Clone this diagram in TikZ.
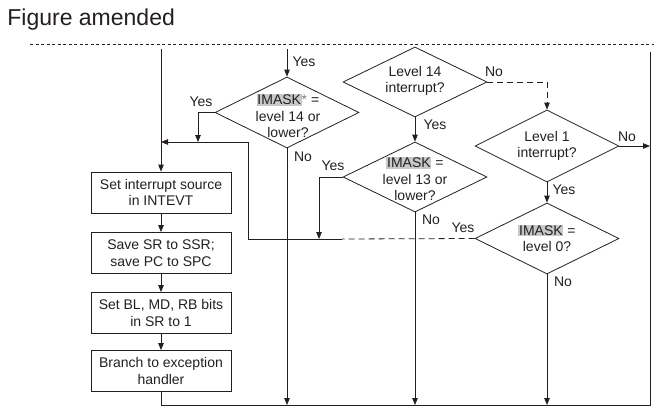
\documentclass[tikz,border=0pt]{standalone}
\usepackage{fontspec}
\setmainfont{Liberation Sans}
\usetikzlibrary{shapes.geometric,arrows.meta}
\definecolor{ink}{HTML}{231F20}
\definecolor{hlgray}{HTML}{C8C8C8}
\newcommand{\hlword}[1]{{\setlength{\fboxsep}{0.7pt}\colorbox{hlgray}{#1}}}
\begin{document}
\begin{tikzpicture}[x=1pt,y=-1pt, line width=0.8pt, color=ink,
 every node/.style={font=\fontsize{14}{16.5}\selectfont, text=ink},
 arr/.style={-{Triangle[length=7pt,width=5.5pt]}},
 stepbox/.style={draw, rectangle, minimum width=140pt, minimum height=41pt, inner sep=0pt, align=center},
 dia/.style={draw, diamond, minimum width=144pt, minimum height=71pt, inner sep=0pt},
 dtext/.style={align=center, inner sep=0pt},
 lbl/.style={inner sep=0pt},
 dsh/.style={dash pattern=on 6pt off 4pt}]
\useasboundingbox (0,0) rectangle (654,407);
% title and top dashed rule
\node[anchor=base west, inner sep=0pt, font=\fontsize{23}{27}\selectfont] (title) at (7,25) {Figure amended};
\coordinate (tl) at (30,44); \coordinate (tr) at (654,44);
\draw[line width=0.6pt, dash pattern=on 3pt off 2.5pt] (tl) -- (tr);
% boxes
\node[stepbox] (b1) at (161,192.5) {Set interrupt source\\in INTEVT};
\node[stepbox] (b2) at (161,253) {Save SR to SSR;\\save PC to SPC};
\node[stepbox] (b3) at (161,313) {Set BL, MD, RB bits\\in SR to 1};
\node[stepbox] (b4) at (161,371) {Branch to exception\\handler};
% diamonds
\node[dia] (d1) at (287,112.5) {};
\node[dtext] (t1) at (288,116) {\hlword{IMASK}{\color{gray}*} =\\level 14 or\\lower?};
\node[dia, minimum height=70pt] (d2) at (415,82) {};
\node[dtext] (t2) at (415,81) {Level 14\\interrupt?};
\node[dia, minimum height=70pt] (d3) at (415,177) {};
\node[dtext] (t3) at (415,179) {\hlword{IMASK} =\\level 13 or\\lower?};
\node[dia, minimum height=72pt] (d4) at (547,146) {};
\node[dtext] (t4) at (547,146) {Level 1\\interrupt?};
\node[dia] (d5) at (547,238.5) {};
\node[dtext] (t5) at (547,238.5) {\hlword{IMASK} =\\level 0?};
% coordinates
\coordinate (in1) at (287,49);
\coordinate (inL) at (161,49);
\coordinate (y1a) at (198,112.5); \coordinate (y1b) at (198,142);
\coordinate (jr) at (342,239); \coordinate (jb) at (248,239);
\coordinate (jt) at (248,142); \coordinate (jl) at (161,142);
\coordinate (y3a) at (319,177); \coordinate (y3b) at (319,239);
\coordinate (n2) at (547,82);
\coordinate (n4) at (650,146);
\coordinate (bl) at (161,405); \coordinate (br) at (650,405); \coordinate (rt) at (650,52);
\coordinate (e1) at (287,405); \coordinate (e3) at (415,405); \coordinate (e5) at (547,405);
% connectors
\draw[arr] (in1) -- (d1.north);
\draw[arr] (inL) -- (b1.north);
\draw[arr] (d1.west) -- (y1a) -- (y1b);
\draw[dsh] (d5.west) -- (jr);
\draw[arr] (jr) -- (jb) -- (jt) -- (jl);
\draw[arr] (d3.west) -- (y3a) -- (y3b);
\draw[arr] (d2.south) -- (d3.north);
\draw[dsh,arr] (d2.east) -- (n2) -- (d4.north);
\draw[arr] (d4.south) -- (d5.north);
\draw[arr] (d4.east) -- (n4);
\draw (b4.south) -- (bl) -- (br) -- (rt);
\draw[arr] (d1.south) -- (e1);
\draw[arr] (d3.south) -- (e3);
\draw[arr] (d5.south) -- (e5);
\draw[arr] (b1) -- (b2);
\draw[arr] (b2) -- (b3);
\draw[arr] (b3) -- (b4);
% labels
\node[lbl] (l1) at (304,62) {Yes};
\node[lbl] (l2) at (201,102) {Yes};
\node[lbl] (l3) at (303,157) {No};
\node[lbl] (l4) at (494,72) {No};
\node[lbl] (l5) at (435,125) {Yes};
\node[lbl] (l6) at (333,166) {Yes};
\node[lbl] (l7) at (431,220) {No};
\node[lbl] (l8) at (564,190) {Yes};
\node[lbl] (l9) at (627,137) {No};
\node[lbl] (l10) at (463,228) {Yes};
\node[lbl] (l11) at (563,282) {No};
\end{tikzpicture}
\end{document}
